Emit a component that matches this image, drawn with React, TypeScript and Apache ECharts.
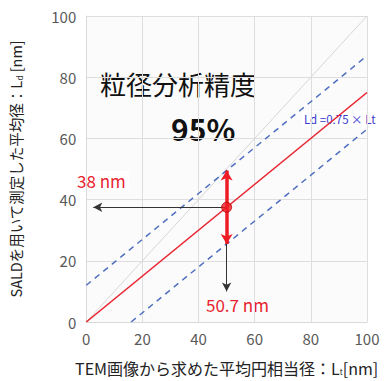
import React, { useEffect, useRef } from "react";
import * as echarts from "echarts";

const xTicks = [0, 20, 40, 60, 80, 100];
const yTicks = [0, 20, 40, 60, 80, 100];
const identityLine = [[0, 0], [100, 100]];
const fitLine = [[0, 0], [100, 75]];
const upperBand = [[0, 12], [100, 87]];
const lowerBand = [[16, 0], [100, 63]];
const samplePoint = [[50, 37.5]];
const rangeArrow = [[50, 25.5], [50, 49.5]];
const leftArrow = [[50, 37.5], [2.5, 37.5]];
const downArrow = [[50, 37.5], [50, 10]];

const FONT = "'Noto Sans CJK JP', 'Noto Sans', sans-serif";

export default function App() {
  const ref = useRef<HTMLDivElement>(null);
  useEffect(() => {
    const chart = echarts.init(ref.current!, null, { renderer: "svg" });
    const blue = "#4f6fbf";
    chart.setOption({
      animation: false,
      textStyle: { fontFamily: FONT },
      grid: { left: 85, right: 18, top: 16, bottom: 59, backgroundColor: "#fbfbfb", show: true, borderWidth: 0 },
      xAxis: {
        type: "value",
        min: xTicks[0],
        max: xTicks[xTicks.length - 1],
        interval: 20,
        axisLine: { show: true, lineStyle: { color: "#d9d9d9" } },
        axisTick: { show: false },
        splitLine: { lineStyle: { color: "#dedede" } },
        axisLabel: { color: "#595959", fontSize: 15, margin: 9, fontFamily: FONT },
        name: "TEM画像から求めた平均円相当径：L{sub|t}[nm]",
        nameLocation: "middle",
        nameGap: 37,
        nameTextStyle: {
          color: "#222",
          fontSize: 16,
          fontFamily: FONT,
          rich: { sub: { fontSize: 8, padding: [9, 0, 0, 0], color: "#222" } },
        },
      },
      yAxis: {
        type: "value",
        min: yTicks[0],
        max: yTicks[yTicks.length - 1],
        interval: 20,
        axisLine: { show: true, lineStyle: { color: "#d9d9d9" } },
        axisTick: { show: false },
        splitLine: { lineStyle: { color: "#dedede" } },
        axisLabel: { color: "#595959", fontSize: 15, margin: 10, fontFamily: FONT },
        name: "SALDを用いて測定した平均径：L{sub|d} [nm]",
        nameLocation: "middle",
        nameRotate: 90,
        nameGap: 63,
        nameTextStyle: {
          color: "#222",
          fontSize: 14.5,
          fontFamily: FONT,
          rich: { sub: { fontSize: 8, color: "#222", padding: [8, 0, 0, 0] } },
        },
      },
      series: [
        {
          type: "line",
          data: identityLine,
          symbol: "none",
          lineStyle: { color: "#d6d6d6", width: 1 },
          silent: true,
        },
        {
          type: "line",
          data: upperBand,
          symbol: "none",
          lineStyle: { color: blue, width: 1.5, type: [6, 5] },
        },
        {
          type: "line",
          data: lowerBand,
          symbol: "none",
          lineStyle: { color: blue, width: 1.5, type: [6, 5] },
        },
        {
          type: "line",
          data: fitLine,
          symbol: "none",
          lineStyle: { color: "#e8232e", width: 1.6 },
          markLine: {
            silent: true,
            label: { show: false },
            data: [
              [
                { coord: leftArrow[0], symbol: "none", lineStyle: { color: "#333", width: 1, type: "solid" } },
                { coord: leftArrow[1], symbol: "arrow", symbolSize: [7, 9] },
              ],
              [
                { coord: downArrow[0], symbol: "none", lineStyle: { color: "#333", width: 1, type: "solid" } },
                { coord: downArrow[1], symbol: "arrow", symbolSize: [7, 9] },
              ],
              [
                { coord: rangeArrow[0], symbol: "arrow", symbolSize: [9, 10], lineStyle: { color: "#ee1c25", width: 3.5, type: "solid" } },
                { coord: rangeArrow[1], symbol: "arrow", symbolSize: [9, 10] },
              ],
            ],
          },
        },
        {
          type: "scatter",
          data: samplePoint,
          symbolSize: 10,
          itemStyle: { color: "#ee1c25", borderColor: "#b00", borderWidth: 1 },
          z: 10,
        },
      ],
      graphic: [
        {
          type: "text",
          left: 100,
          top: 70,
          style: { text: "粒径分析精度", fontSize: 26, fill: "#111", fontFamily: FONT },
        },
        {
          type: "text",
          left: 171,
          top: 113,
          style: { text: "95%", fontSize: 30, fontWeight: "bold", fill: "#111", fontFamily: FONT },
        },
        {
          type: "text",
          left: 74,
          top: 171,
          style: { text: "38 nm", fontSize: 17, fill: "#e8232e", fontFamily: FONT, backgroundColor: "#fff", padding: [1, 3] },
        },
        {
          type: "text",
          left: 206,
          top: 296,
          style: { text: "50.7 nm", fontSize: 17, fill: "#e8232e", fontFamily: FONT },
        },
        {
          type: "text",
          left: 302,
          top: 111,
          style: { text: "Ld =0.75 × Lt", fontSize: 11.5, fill: "#3a3ad0", fontFamily: FONT, backgroundColor: "#fff", padding: [2, 2] },
        },
      ],
    });
    return () => chart.dispose();
  }, []);
  return <div ref={ref} style={{ width: 385, height: 381, position: "absolute", left: 0, top: 0 }} />;
}
